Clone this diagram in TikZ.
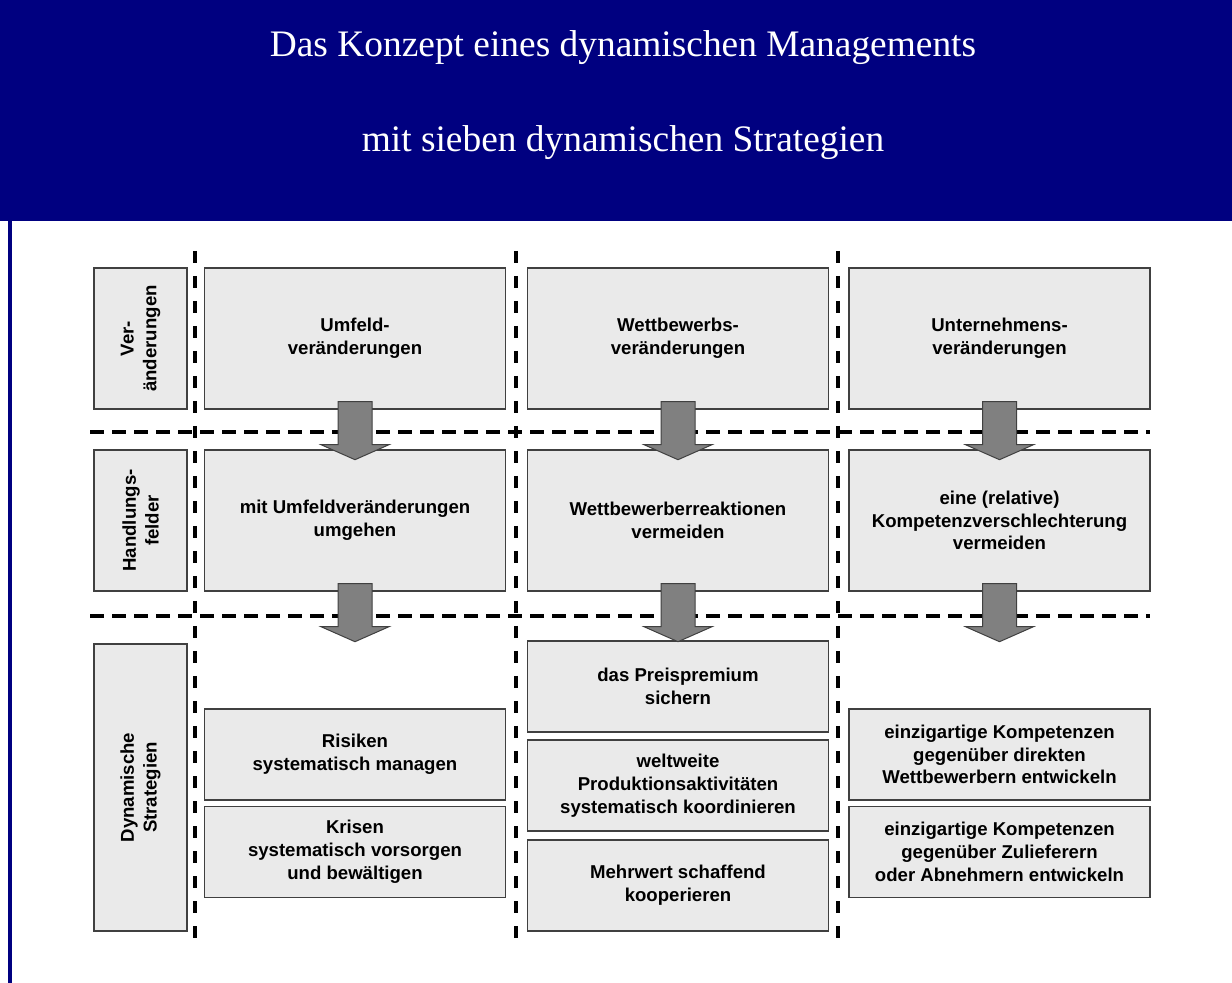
\documentclass[tikz,border=0pt]{standalone}
\usepackage{fontspec}
\setmainfont{Liberation Serif}
\newfontfamily\boxfont{Liberation Sans}
\usetikzlibrary{calc}

\definecolor{headblue}{RGB}{0,0,128}
\definecolor{cellgray}{RGB}{234,234,234}
\definecolor{cellline}{RGB}{64,64,64}
\definecolor{arrowgray}{RGB}{128,128,128}

\newcommand*{\xmin}{90}
\newcommand*{\xmax}{1150}
\newcommand*{\ytop}{251}
\newcommand*{\ybot}{946}
% block arrow hanging below a named box
\newcommand*{\blockarrow}[1]{%
	\draw[blockarr] ($(#1.south)+(-17,-8)$) -- ++(0,43) -- ++(-17,0) -- ++(34,15)
		-- ++(34,-15) -- ++(-17,0) -- ++(0,-43) -- cycle;
}

\begin{document}
\begin{tikzpicture}
[
	x=0.5pt,
	y=-0.5pt,
	cell/.style={draw=cellline,fill=cellgray,line width=0.7pt,inner sep=0pt,align=center,
		minimum width=150.5pt,minimum height=70.5pt,
		font=\boxfont\bfseries\fontsize{9.3}{11.4}\selectfont},
	smallcell/.style={cell,minimum height=45.5pt},
	rowlabel/.style={cell,rotate=90,minimum width=70.5pt,minimum height=46.5pt},
	sep/.style={line width=2pt,dash pattern=on 7pt off 4pt},
	vsep/.style={line width=2pt,dash pattern=on 6pt off 6.5pt},
	blockarr/.style={fill=arrowgray,draw=cellline,line width=0.5pt},
	title/.style={text=white,font=\fontsize{18.7}{22}\selectfont}
]

	\useasboundingbox (0,0) rectangle (1232,983);

	% header
	\fill[headblue] (0,0) rectangle (1232,221);
	\fill[headblue] (8,221) rectangle (12,983);
	\node[title] (title1) at (623,48) {Das Konzept eines dynamischen Managements};
	\node[title] (title2) at (623,143) {mit sieben dynamischen Strategien};

	% row labels
	\node[rowlabel] (lab1) at (140.5,338.5) {Ver-\\änderungen};
	\node[rowlabel] (lab2) at (140.5,520.5) {Handlungs-\\felder};
	\node[rowlabel,minimum width=143.5pt] (lab3) at (140.5,787.5) {Dynamische\\Strategien};

	% changes
	\node[cell] (umfeld) at (355,338.5) {Umfeld-\\veränderungen};
	\node[cell] (wettbewerb) at (678,338.5) {Wettbewerbs-\\veränderungen};
	\node[cell] (unternehmen) at (999.5,338.5) {Unternehmens-\\veränderungen};

	% fields of action
	\node[cell] (feld1) at (355,520.5) {mit Umfeldveränderungen\\umgehen};
	\node[cell] (feld2) at (678,520.5) {Wettbewerberreaktionen\\vermeiden};
	\node[cell] (feld3) at (999.5,520.5) {eine (relative)\\Kompetenzverschlechterung\\vermeiden};

	% strategies
	\node[smallcell] (risiken) at (355,754.5) {Risiken\\systematisch managen};
	\node[smallcell] (krisen) at (355,852) {Krisen\\systematisch vorsorgen\\und bewältigen};
	\node[smallcell] (preis) at (678,686.5) {das Preispremium\\sichern};
	\node[smallcell] (produktion) at (678,785.5) {weltweite\\Produktionsaktivitäten\\systematisch koordinieren};
	\node[smallcell] (mehrwert) at (678,885.5) {Mehrwert schaffend\\kooperieren};
	\node[smallcell] (direkt) at (999.5,754.5) {einzigartige Kompetenzen\\gegenüber direkten\\Wettbewerbern entwickeln};
	\node[smallcell] (zuliefer) at (999.5,852) {einzigartige Kompetenzen\\gegenüber Zulieferern\\oder Abnehmern entwickeln};

	% dashed separators
	\foreach \y in {432,616} {
		\draw[sep] (\xmin,\y) -- (\xmax,\y);
	}
	\foreach \x in {195,516,838} {
		\draw[vsep] (\x,\ytop) -- (\x,\ybot);
	}

	% arrows
	\foreach \n in {umfeld,wettbewerb,unternehmen,feld1,feld2,feld3} {
		\blockarrow{\n}
	}

\end{tikzpicture}
\end{document}
